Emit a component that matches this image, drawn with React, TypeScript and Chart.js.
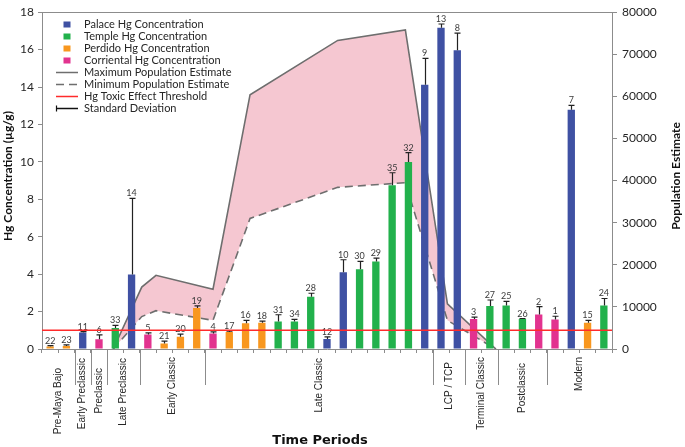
import React, { useEffect, useRef } from 'react';
import { Chart, registerables } from 'chart.js';
Chart.register(...registerables);

// ---------- DATA ----------
const sampleIds = ['22','23','11','6','33','14','5','21','20','19','4','17','16','18','31','34','28','12','10','30','29','35','32','9','13','8','3','27','25','26','2','1','7','15','24'];
const sampleSite = ['Perdido','Perdido','Palace','Corriental','Temple','Palace','Corriental','Perdido','Perdido','Perdido','Corriental','Perdido','Perdido','Perdido','Temple','Temple','Temple','Palace','Palace','Temple','Temple','Temple','Temple','Palace','Palace','Palace','Corriental','Temple','Temple','Temple','Corriental','Corriental','Palace','Perdido','Temple'];
const hgMean = [0.13,0.16,0.88,0.52,1.12,3.98,0.77,0.30,0.65,2.19,0.83,0.91,1.38,1.40,1.47,1.47,2.79,0.54,4.10,4.26,4.67,8.75,10.0,14.12,17.17,15.96,1.61,2.30,2.32,1.60,1.84,1.58,12.79,1.40,2.33];
const hgSD = [0.05,0.06,0.05,0.24,0.14,4.07,0.09,0.12,0.14,0.11,0.08,0.05,0.15,0.09,0.36,0.11,0.19,0.11,0.67,0.42,0.19,0.67,0.50,1.41,0.20,0.92,0.09,0.32,0.22,0.03,0.42,0.17,0.23,0.13,0.37];

const periods = ['Pre-Maya Bajo','Early Preclassic','Preclassic','Late Preclassic','Early Classic','Late Classic','LCP / TCP','Terminal Classic','Postclassic','Modern'];
const periodSpan = [2,1,1,2,4,14,2,2,3,4];

const popPosition = [2.5,4.5,5.5,9.5,12.1,18.25,23.0,25.95,29.35];
const popMax = [0,14700,17500,14200,60400,73300,75800,10700,0];
const popMin = [0,7700,9100,6800,31000,38400,39500,6800,0];
const toxicThreshold = 1.0;

const hgTicks = { min: 0, max: 18, step: 2 };
const popTicks = { min: 0, max: 80000, step: 10000 };

const seriesNames = ['Palace Hg Concentration','Temple Hg Concentration','Perdido Hg Concentration','Corriental Hg Concentration'];
const seriesSites = ['Palace','Temple','Perdido','Corriental'];
const lineNames = ['Maximum Population Estimate','Minimum Population Estimate','Hg Toxic Effect Threshold','Standard Deviation'];

// ---------- STYLE ----------
const COLORS: Record<string, string> = {
  Palace: '#3f51a3',
  Temple: '#22b14c',
  Perdido: '#f8971f',
  Corriental: '#e2338f',
};
const POP_LINE = '#6e6e6e';
const POP_FILL = '#f5c7d1';
const RED = '#ff2b2b';
const AXIS = '#8c8c8c';
const TXT = '#262626';
const periodLabelTop = [368,358,368,358,357,358,362,357,363,357];

const overlay = {
  id: 'overlay',
  afterDatasetsDraw(chart: any) {
    const ctx = chart.ctx;
    const { left, right } = chart.chartArea;
    const y = chart.scales.y;
    ctx.save();
    // error bars + sample labels
    chart.data.datasets.forEach((ds: any, di: number) => {
      if (ds.type === 'line') return;
      const meta = chart.getDatasetMeta(di);
      meta.data.forEach((el: any, i: number) => {
        const v = ds.data[i];
        if (v == null) return;
        const yTop = y.getPixelForValue(v + hgSD[i]);
        const x = Math.round(el.x) + 0.5;
        ctx.strokeStyle = '#222';
        ctx.lineWidth = 1.2;
        ctx.beginPath();
        ctx.moveTo(x, el.y);
        ctx.lineTo(x, yTop);
        ctx.moveTo(x - 3, yTop);
        ctx.lineTo(x + 3, yTop);
        ctx.stroke();
        ctx.fillStyle = '#3a3a3a';
        ctx.font = '9px Lato';
        ctx.textAlign = 'center';
        ctx.textBaseline = 'alphabetic';
        ctx.fillText(sampleIds[i], el.x, yTop - 2);
      });
    });
    // threshold line
    const ty = y.getPixelForValue(toxicThreshold);
    ctx.strokeStyle = RED;
    ctx.lineWidth = 1.5;
    ctx.beginPath();
    ctx.moveTo(left, ty);
    ctx.lineTo(right, ty);
    ctx.stroke();
    ctx.restore();
  },
  afterDraw(chart: any) {
    const ctx = chart.ctx;
    const { left, right, top, bottom } = chart.chartArea;
    ctx.save();
    // top frame line
    ctx.strokeStyle = AXIS;
    ctx.lineWidth = 1;
    ctx.beginPath();
    ctx.moveTo(left, Math.round(top) + 0.5);
    ctx.lineTo(right, Math.round(top) + 0.5);
    ctx.stroke();

    // period separators and labels
    const n = sampleIds.length;
    const w = (right - left) / n;
    let start = 0;
    periods.forEach((name, k) => {
      const end = start + periodSpan[k];
      if (end < n) {
        const bx = Math.round(left + end * w) + 0.5;
        ctx.strokeStyle = AXIS;
        ctx.lineWidth = 1;
        ctx.beginPath();
        ctx.moveTo(bx, bottom);
        ctx.lineTo(bx, bottom + 36);
        ctx.stroke();
      }
      const cx = left + ((start + end) / 2) * w;
      ctx.save();
      ctx.translate(cx, periodLabelTop[k]);
      ctx.rotate(-Math.PI / 2);
      ctx.font = '10px "Liberation Sans"';
      ctx.fillStyle = TXT;
      ctx.textAlign = 'right';
      ctx.textBaseline = 'middle';
      ctx.fillText(name, 0, 0);
      ctx.restore();
      start = end;
    });

    // axis titles
    ctx.fillStyle = '#111';
    ctx.textAlign = 'center';
    ctx.textBaseline = 'middle';
    ctx.font = 'bold 13px "DejaVu Sans"';
    ctx.fillText('Time Periods', 320, 441);

    ctx.font = 'bold 12px Lato';
    ctx.save();
    ctx.translate(8, 176);
    ctx.rotate(-Math.PI / 2);
    ctx.fillText('Hg Concentration (µg/g)', 0, 0);
    ctx.restore();
    ctx.save();
    ctx.translate(676, 176);
    ctx.rotate(-Math.PI / 2);
    ctx.fillText('Population Estimate', 0, 0);
    ctx.restore();

    // legend
    const lx = 56, tx = 84, y0 = 24.5, dy = 12;
    ctx.font = '11px Lato';
    ctx.textAlign = 'left';
    ctx.textBaseline = 'middle';
    seriesNames.forEach((nm, i) => {
      const yy = y0 + i * dy;
      ctx.fillStyle = COLORS[seriesSites[i]];
      ctx.fillRect(63.5, yy - 3, 7, 6);
      ctx.fillStyle = TXT;
      ctx.fillText(nm, tx, yy);
    });
    lineNames.forEach((nm, j) => {
      const yy = y0 + (4 + j) * dy;
      ctx.lineWidth = 1.5;
      ctx.setLineDash([]);
      if (j === 0) ctx.strokeStyle = POP_LINE;
      if (j === 1) { ctx.strokeStyle = POP_LINE; ctx.setLineDash([8, 5]); }
      if (j === 2) ctx.strokeStyle = RED;
      if (j === 3) ctx.strokeStyle = '#111';
      ctx.beginPath();
      ctx.moveTo(lx, yy);
      ctx.lineTo(lx + 22, yy);
      ctx.stroke();
      ctx.setLineDash([]);
      if (j === 3) {
        ctx.lineWidth = 1.2;
        ctx.beginPath();
        ctx.moveTo(lx + 0.5, yy - 3);
        ctx.lineTo(lx + 0.5, yy + 3);
        ctx.stroke();
      }
      ctx.fillStyle = TXT;
      ctx.fillText(nm, tx, yy);
    });
    ctx.restore();
  },
};

export default function App() {
  const ref = useRef<HTMLCanvasElement>(null);
  useEffect(() => {
    document.body.style.margin = '0';
    const canvas = ref.current!;
    const barSets = seriesSites.map((site, k) => ({
      type: 'bar' as const,
      label: seriesNames[k],
      data: hgMean.map((v, i) => (sampleSite[i] === site ? v : null)),
      backgroundColor: COLORS[site],
      borderWidth: 0,
      xAxisID: 'x',
      yAxisID: 'y',
      grouped: false,
      categoryPercentage: 1,
      barPercentage: 0.45,
      order: 1,
    }));
    const chart = new Chart(canvas, {
      type: 'bar',
      data: {
        labels: sampleIds,
        datasets: [
          {
            type: 'line',
            label: lineNames[0],
            data: popPosition.map((x, i) => ({ x, y: popMax[i] })),
            xAxisID: 'xPop',
            yAxisID: 'yPop',
            borderColor: POP_LINE,
            borderWidth: 1.6,
            backgroundColor: POP_FILL,
            pointRadius: 0,
            tension: 0,
            fill: '+1',
            order: 3,
          },
          {
            type: 'line',
            label: lineNames[1],
            data: popPosition.map((x, i) => ({ x, y: popMin[i] })),
            xAxisID: 'xPop',
            yAxisID: 'yPop',
            borderColor: POP_LINE,
            borderWidth: 1.6,
            borderDash: [8, 5],
            pointRadius: 0,
            tension: 0,
            fill: false,
            order: 2,
          },
          ...barSets,
        ] as any,
      },
      options: {
        animation: false,
        responsive: false,
        devicePixelRatio: 1,
        layout: { padding: { top: 7, left: 0, right: 0, bottom: 0 } },
        scales: {
          x: {
            type: 'category',
            offset: true,
            grid: { offset: true, drawOnChartArea: false, drawTicks: true, tickLength: 4, color: AXIS },
            border: { color: AXIS },
            ticks: { display: false },
            afterFit: (s: any) => { s.height = 98; },
          },
          xPop: { type: 'linear', display: false, min: 0, max: sampleIds.length },
          y: {
            position: 'left',
            min: hgTicks.min,
            max: hgTicks.max,
            ticks: { stepSize: hgTicks.step, color: TXT, font: { family: 'Lato', size: 12 }, padding: 4 },
            grid: { drawOnChartArea: false, tickLength: 4, color: AXIS },
            border: { color: AXIS },
            afterFit: (s: any) => { s.width = 42; },
          },
          yPop: {
            position: 'right',
            min: popTicks.min,
            max: popTicks.max,
            ticks: { stepSize: popTicks.step, color: TXT, font: { family: 'Lato', size: 12 }, padding: 5, callback: (v: any) => String(v) },
            grid: { drawOnChartArea: false, tickLength: 5, color: AXIS },
            border: { color: AXIS },
            afterFit: (s: any) => { s.width = 73; },
          },
        },
        plugins: { legend: { display: false }, tooltip: { enabled: false } },
      } as any,
      plugins: [overlay],
    });
    return () => chart.destroy();
  }, []);
  return (
    <div style={{ width: 685, height: 447 }}>
      <canvas ref={ref} width={685} height={447} style={{ display: 'block' }} />
    </div>
  );
}
